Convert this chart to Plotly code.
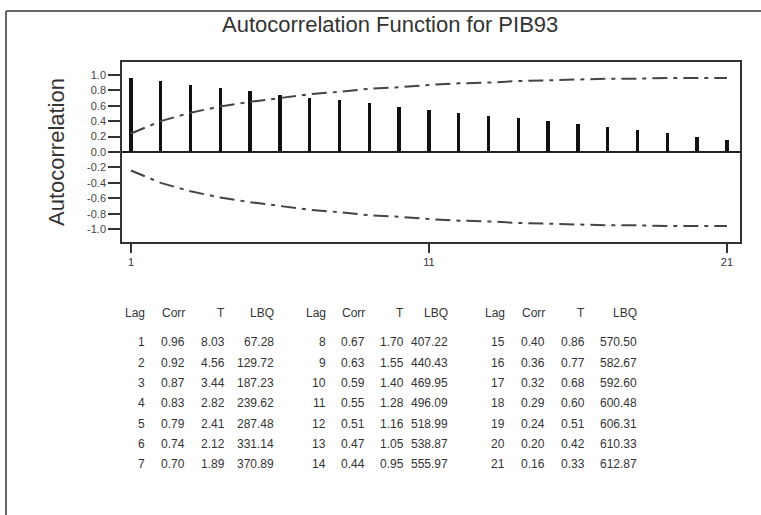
import plotly.graph_objects as go

# ---- data ----
lags = list(range(1, 22))
corr = [0.96, 0.92, 0.87, 0.83, 0.79, 0.74, 0.70, 0.67, 0.63, 0.59, 0.55,
        0.51, 0.47, 0.44, 0.40, 0.36, 0.32, 0.29, 0.24, 0.20, 0.16]
tstat = [8.03, 4.56, 3.44, 2.82, 2.41, 2.12, 1.89, 1.70, 1.55, 1.40, 1.28,
         1.16, 1.05, 0.95, 0.86, 0.77, 0.68, 0.60, 0.51, 0.42, 0.33]
lbq = [67.28, 129.72, 187.23, 239.62, 287.48, 331.14, 370.89, 407.22, 440.43,
       469.95, 496.09, 518.99, 538.87, 555.97, 570.50, 582.67, 592.60, 600.48,
       606.31, 610.33, 612.87]
# confidence limits (upper; lower is mirrored)
upper_limit = [0.24, 0.40, 0.51, 0.59, 0.65, 0.70, 0.75, 0.78, 0.82, 0.84, 0.87,
               0.89, 0.90, 0.92, 0.93, 0.94, 0.95, 0.95, 0.96, 0.96, 0.96]
lower_limit = [-v for v in upper_limit]

ytick_vals = [1.0, 0.8, 0.6, 0.4, 0.2, 0.0, -0.2, -0.4, -0.6, -0.8, -1.0]
ytick_text = ["1.0", "0.8", "0.6", "0.4", "0.2", "0.0", "-0.2", "-0.4", "-0.6", "-0.8", "-1.0"]
xtick_vals = [1, 11, 21]
table_headers = ["Lag", "Corr", "T", "LBQ"]

W, H = 761, 515
L, R, T, B = 122, 740, 62, 242  # plot area in pixels

def px(x):
    return (x - L) / (R - L)

def py(y):
    return (B - y) / (B - T)

fig = go.Figure()
fig.add_trace(go.Bar(x=lags, y=corr, width=0.11, marker=dict(color="#111111", line=dict(width=0)),
                     showlegend=False))
dash = "15px,6px,4px,6px"
fig.add_trace(go.Scatter(x=lags, y=upper_limit, mode="lines",
                         line=dict(color="#444444", width=2, dash=dash), showlegend=False))
fig.add_trace(go.Scatter(x=lags, y=lower_limit, mode="lines",
                         line=dict(color="#444444", width=2, dash=dash), showlegend=False))

font_family = "Liberation Sans, Arial, sans-serif"

fig.update_layout(
    width=W, height=H,
    margin=dict(l=L, r=W - R, t=T, b=H - B),
    paper_bgcolor="white", plot_bgcolor="white",
    font=dict(family=font_family, color="#333333"),
    bargap=0,
    xaxis=dict(range=[0.70, 21.44], tickvals=xtick_vals, ticks="outside", ticklen=9,
               tickwidth=1.5, tickcolor="#333", showgrid=False, zeroline=False,
               showline=True, linecolor="#333", linewidth=1.5, mirror=True,
               tickfont=dict(size=11, color="#333")),
    yaxis=dict(range=[-1.167, 1.167], tickvals=ytick_vals, ticktext=ytick_text,
               ticks="outside", ticklen=12, tickwidth=1.5, tickcolor="#333",
               showgrid=False, zeroline=True, zerolinecolor="#222", zerolinewidth=1.5,
               showline=True, linecolor="#333", linewidth=1.5, mirror=True,
               tickfont=dict(size=11, color="#444"),
               title=dict(text="Autocorrelation", font=dict(size=22, color="#333"), standoff=16)),
)

# outer frame (top and left lines)
fig.add_shape(type="line", xref="paper", yref="paper", x0=px(6), x1=px(761), y0=py(11), y1=py(11),
              line=dict(color="#666", width=2))
fig.add_shape(type="line", xref="paper", yref="paper", x0=px(6), x1=px(6), y0=py(11), y1=py(515),
              line=dict(color="#666", width=2))

# title
fig.add_annotation(text="Autocorrelation Function for PIB93", xref="paper", yref="paper",
                   x=px(390), y=py(24), xanchor="center", yanchor="middle", showarrow=False,
                   font=dict(size=22, color="#333"))

# table
group_cols = [[147, 187, 227, 276], [328, 367, 406, 450], [507, 547, 587, 639]]
header_y = 313
row_ys = [342, 362.5, 383, 403, 423.5, 444, 464]
for g, cols in enumerate(group_cols):
    for c, h in enumerate(table_headers):
        fig.add_annotation(text=h, xref="paper", yref="paper", x=px(cols[c]), y=py(header_y),
                           xanchor="right", yanchor="middle", showarrow=False,
                           font=dict(size=12, color="#333"))
    for r in range(7):
        i = g * 7 + r
        vals = [str(lags[i]), f"{corr[i]:.2f}", f"{tstat[i]:.2f}", f"{lbq[i]:.2f}"]
        for c, v in enumerate(vals):
            fig.add_annotation(text=v, xref="paper", yref="paper", x=px(cols[c]), y=py(row_ys[r]),
                               xanchor="right", yanchor="middle", showarrow=False,
                               font=dict(size=12, color="#333"))

fig.write_html("out.html", config={"displayModeBar": False},
               post_script=("document.body.style.margin='0';"
                            "document.body.style.overflow='hidden';"
                            "document.documentElement.style.overflow='hidden';"))
